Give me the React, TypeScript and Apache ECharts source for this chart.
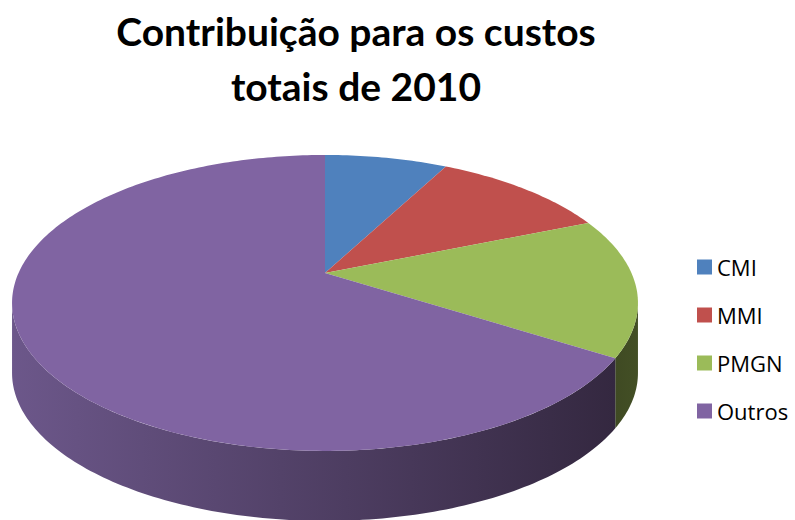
import React, { useEffect, useRef } from "react";
import * as echarts from "echarts";

const titleText = "Contribuição para os custos\ntotais de 2010";
const categories = ["CMI", "MMI", "PMGN", "Outros"];
const values = [7.7, 11.1, 15.2, 66.0];
const topColors = ["#4f81bd", "#c0504d", "#9bbb59", "#8064a2"];
const sideColorsLeft = ["#3d5a85", "#85383a", "#3f4a23", "#6c578a"];
const sideColorsRight = ["#2a3e5c", "#5c2727", "#434f25", "#342840"];

// projection parameters (3D pie in perspective)
const CX = 325;
const CY = 273;
const DD = 4.94;
const KX = 1514;
const KY = 701;
const DEPTH = 70;
const SILH = Math.acos(-1 / DD); // silhouette angle (~101.7deg)

function proj(theta: number, dy: number): number[] {
  const s = Math.sin(theta);
  const c = Math.cos(theta);
  const d = DD + c;
  return [CX + (KX * s) / d, CY - (KY * c) / d + dy];
}

function arc(a: number, b: number, dy: number): number[][] {
  const pts: number[][] = [];
  const n = Math.max(2, Math.ceil(((b - a) * 180) / Math.PI));
  for (let i = 0; i <= n; i++) {
    pts.push(proj(a + ((b - a) * i) / n, dy));
  }
  return pts;
}

export default function App() {
  const ref = useRef<HTMLDivElement>(null);
  useEffect(() => {
    document.body.style.margin = "0";
    const chart = echarts.init(ref.current!, undefined, { renderer: "svg" });
    const total = values.reduce((s, v) => s + v, 0);
    const starts: number[] = [];
    let acc = 0;
    values.forEach((v) => {
      starts.push((acc / total) * Math.PI * 2);
      acc += v;
    });

    const series = categories.map((name, idx) => ({
      type: "custom",
      name,
      coordinateSystem: "none",
      color: topColors[idx],
      data: [[values[idx]]],
      silent: true,
      renderItem: (params: any, api: any) => {
        const v = api.value(0);
        const a = starts[idx];
        const b = a + (v / total) * Math.PI * 2;
        const children: any[] = [];
        const sa = Math.max(a, SILH);
        const sb = Math.min(b, 2 * Math.PI - SILH);
        if (sb > sa) {
          const top = arc(sa, sb, 0);
          const bot = arc(sa, sb, DEPTH).reverse();
          children.push({
            type: "polygon",
            z2: 1,
            shape: { points: top.concat(bot) },
            style: {
              fill: new echarts.graphic.LinearGradient(
                0, 0, 1, 0,
                [
                  { offset: 0, color: sideColorsLeft[idx] },
                  { offset: 1, color: sideColorsRight[idx] },
                ],
                false
              ),
              stroke: null,
            },
          });
        }
        children.push({
          type: "polygon",
          z2: 10,
          shape: { points: [[CX, CY]].concat(arc(a, b, 0)) },
          style: { fill: topColors[idx], stroke: null },
        });
        return { type: "group", children };
      },
    }));

    chart.setOption({
      animation: false,
      title: {
        text: titleText,
        left: 351,
        top: -2,
        textAlign: "center",
        textStyle: {
          fontFamily: "Lato",
          fontWeight: "bold",
          fontSize: 39,
          lineHeight: 55,
          color: "#000",
        },
      },
      legend: {
        orient: "vertical",
        left: 697,
        top: 256,
        padding: 0,
        itemWidth: 15,
        itemHeight: 15,
        itemGap: 26,
        icon: "rect",
        data: categories,
        textStyle: { fontFamily: "Open Sans", fontSize: 22, color: "#000" },
      },
      series,
    });
    return () => chart.dispose();
  }, []);
  return <div ref={ref} style={{ width: 795, height: 520 }} />;
}
